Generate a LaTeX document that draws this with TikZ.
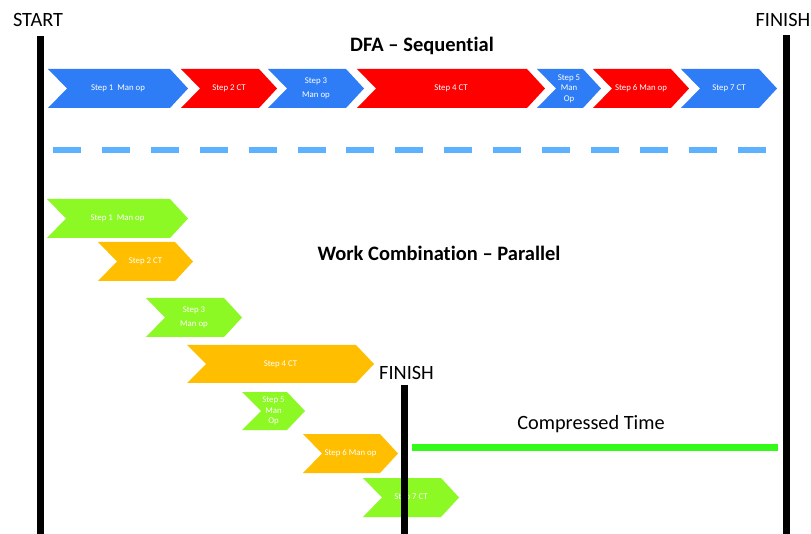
\documentclass[tikz,border=0pt]{standalone}
\usepackage{fontspec}
\setmainfont[Ligatures=NoCommon]{Carlito}
\definecolor{cblue}{RGB}{46,125,246}
\definecolor{cred}{RGB}{255,0,0}
\definecolor{cgreen}{RGB}{140,248,36}
\definecolor{corange}{RGB}{255,190,0}
\definecolor{cline}{RGB}{52,250,26}
\definecolor{cdash}{RGB}{93,178,255}
% #1 name, #2 x1, #3 x2, #4 ytop, #5 ybot, #6 colour, #7 text
\newcommand\chev[7]{%
  \fill[#6] (#2,#4) -- ({#3-18},#4) -- (#3,{(#4+#5)/2}) -- ({#3-18},#5) -- (#2,#5) -- ({#2+19},{(#4+#5)/2}) -- cycle;
  \node[steptext] (#1) at ({(#2+#3)/2},{(#4+#5)/2}) {#7};}
\begin{document}
\begin{tikzpicture}[x=1pt,y=-1pt,
  steptext/.style={text=white,font=\fontsize{8.8}{10.5}\selectfont,align=center,inner sep=0pt},
  bigtext/.style={font=\fontsize{20.3}{22}\selectfont,inner sep=0pt},
  boldtext/.style={font=\fontsize{20.5}{22}\selectfont\bfseries,inner sep=0pt},
  bar/.style={line width=7pt,black},
]
\useasboundingbox[fill=white] (0,0) rectangle (811,534);

% labels
\node[bigtext,anchor=base] (start) at (38,27) {START};
\node[bigtext,anchor=base east] (finishtop) at (810.5,27) {FINISH};
\node[boldtext,anchor=base] (dfa) at (422,52) {DFA -- Sequential};
\node[boldtext,anchor=base] (wc) at (439,261) {Work Combination -- Parallel};
\node[bigtext,anchor=base] (ct) at (591,429) {Compressed Time};
\node[bigtext,anchor=base west] (finishmid) at (379,380) {FINISH};

% sequential row
\chev{a1}{48}{188}{69}{108}{cblue}{Step 1\ \ Man op}
\chev{a2}{181}{277}{69}{108}{cred}{Step 2 CT}
\chev{a3}{268}{364}{69}{108}{cblue}{Step 3\\[3pt]Man op}
\chev{a4}{357}{545}{69}{108}{cred}{Step 4 CT}
\chev{a5}{537}{601}{69}{108}{cblue}{Step 5\\Man\\Op}
\chev{a6}{593}{689}{69}{108}{cred}{Step 6 Man op}
\chev{a7}{681}{777}{69}{108}{cblue}{Step 7 CT}

% dashed separator
\coordinate (d1) at (53,150);
\coordinate (d2) at (766,150);
\draw[cdash,line width=6.7pt,dash pattern=on 28pt off 20.9pt] (d1) -- (d2);

% parallel chevrons
\chev{b1}{47}{188}{199}{238}{cgreen}{Step 1\ \ Man op}
\chev{b2}{98}{193}{242}{281}{corange}{Step 2 CT}
\chev{b3}{146}{242}{298}{337}{cgreen}{Step 3\\[3pt]Man op}
\chev{b4}{187}{374}{345}{383}{corange}{Step 4 CT}
\chev{b5}{242}{305}{392}{430}{cgreen}{Step 5\\Man\\Op}
\chev{b6}{303}{398}{434}{473}{corange}{Step 6 Man op}
\chev{b7}{363}{459}{478}{517}{cgreen}{Step 7 CT}

% compressed time line
\coordinate (g1) at (412,447);
\coordinate (g2) at (778,447);
\draw[cline,line width=7pt] (g1) -- (g2);

% vertical bars
\coordinate (s1) at (40,36);
\coordinate (s2) at (40,534);
\coordinate (f1) at (786,35);
\coordinate (f2) at (786,534);
\coordinate (m1) at (404.5,385);
\coordinate (m2) at (404.5,534);
\draw[bar] (s1) -- (s2);
\draw[bar] (f1) -- (f2);
\draw[bar] (m1) -- (m2);
\end{tikzpicture}
\end{document}
